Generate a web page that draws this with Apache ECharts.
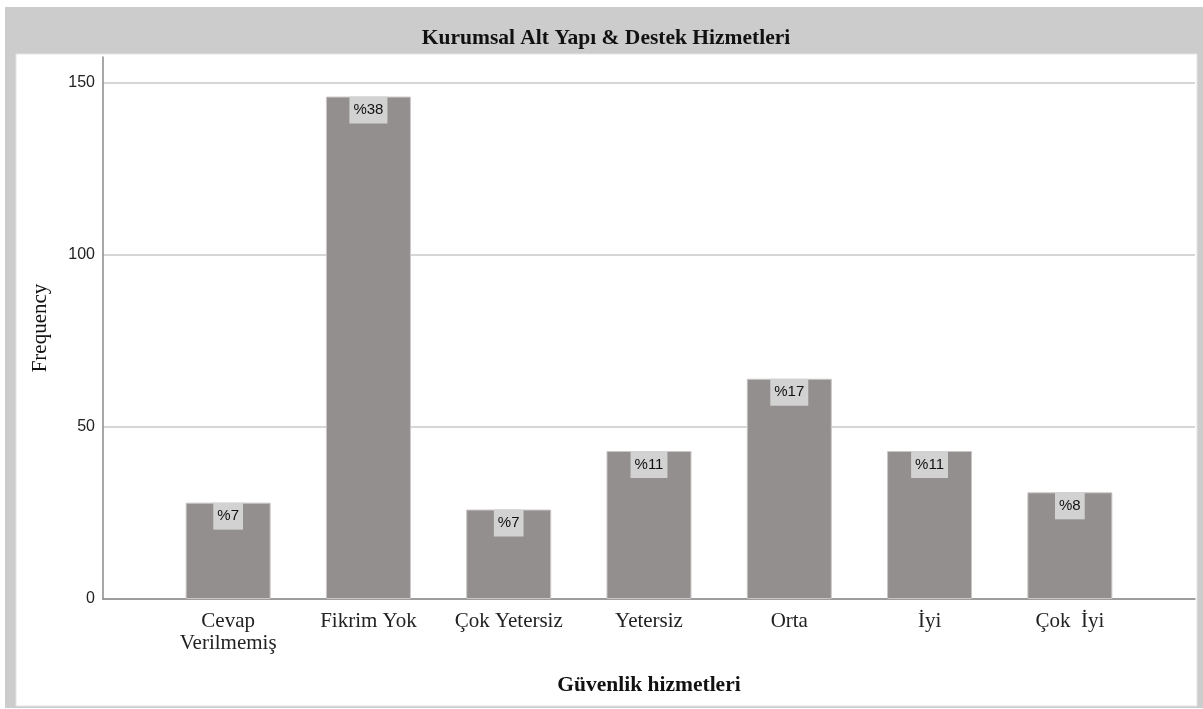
<!DOCTYPE html>
<html>
<head>
<meta charset="utf-8">
<script src="https://cdn.jsdelivr.net/npm/echarts@6/dist/echarts.min.js"></script>
<style>
  html, body { margin: 0; padding: 0; background: #ffffff; }
  #chart { width: 1203px; height: 709px; }
</style>
</head>
<body>
<div id="chart"></div>
<script>
// Chart text
const chartTitle = 'Kurumsal Alt Yapı & Destek Hizmetleri';
const xAxisTitle = 'Güvenlik hizmetleri';
const yAxisTitle = 'Frequency';

// Response categories and their counts
const categories = ['Cevap\nVerilmemiş', 'Fikrim Yok', 'Çok Yetersiz', 'Yetersiz', 'Orta', 'İyi', 'Çok  İyi'];
const frequencies = [28, 146, 26, 43, 64, 43, 31];

// Frequency axis: ticks 0, 50, 100, 150
const yMin = 0;
const yMax = 157.5;
const yStep = 50;

const total = frequencies.reduce((a, b) => a + b, 0);

const serif = 'Liberation Serif';
const sans = 'Liberation Sans';

const chart = echarts.init(document.getElementById('chart'), null, { renderer: 'canvas' });

chart.setOption({
  animation: false,
  backgroundColor: '#ffffff',
  graphic: [
    // grey frame with header band
    { type: 'rect', z: -20, shape: { x: 5, y: 7, width: 1198, height: 701 },
      style: { fill: '#cccccc' } },
    // white chart panel
    { type: 'rect', z: -19, shape: { x: 16, y: 54, width: 1181, height: 652 },
      style: { fill: '#ffffff', stroke: '#e4e4e4', lineWidth: 1 } },
    // header title
    { type: 'text', z: 10, x: 606, y: 38,
      style: { text: chartTitle, fill: '#111111', font: 'bold 21.5px "' + serif + '"',
               textAlign: 'center', textVerticalAlign: 'middle' } }
  ],
  grid: [
    // full-width frame grid: axis lines, gridlines, names
    { left: 103, right: 8, top: 57, bottom: 110 },
    // inset grid holding the bars
    { left: 158, right: 63, top: 57, bottom: 110 }
  ],
  xAxis: [
    {
      gridIndex: 0, type: 'value', min: 0, max: 1,
      axisLine: { show: true, onZero: false, lineStyle: { color: '#8a8a8a', width: 1.5 } },
      axisTick: { show: false }, axisLabel: { show: false }, splitLine: { show: false },
      name: xAxisTitle, nameLocation: 'middle', nameGap: 75,
      nameTextStyle: { fontFamily: serif, fontWeight: 'bold', fontSize: 21.5, color: '#111111' }
    },
    {
      gridIndex: 1, type: 'category', data: categories,
      axisLine: { show: false }, axisTick: { show: false },
      axisLabel: { fontFamily: serif, fontSize: 21, color: '#222222', margin: 11, lineHeight: 22, interval: 0 }
    }
  ],
  yAxis: [
    {
      gridIndex: 0, type: 'value', min: yMin, max: yMax, interval: yStep,
      axisLine: { show: true, lineStyle: { color: '#8a8a8a', width: 1.5 } },
      axisTick: { show: false },
      axisLabel: { fontFamily: sans, fontSize: 16, color: '#222222', margin: 8, showMaxLabel: false },
      splitLine: { show: true, showMaxLine: false, lineStyle: { color: '#c8c8c8', width: 1.5 } },
      name: yAxisTitle, nameLocation: 'middle', nameGap: 52,
      nameTextStyle: { fontFamily: serif, fontSize: 21, color: '#111111' }
    },
    { gridIndex: 1, type: 'value', min: yMin, max: yMax, interval: yStep, show: false }
  ],
  series: [
    {
      type: 'bar', xAxisIndex: 1, yAxisIndex: 1,
      data: frequencies,
      barWidth: 85,
      itemStyle: { color: '#938f8e', borderColor: '#c9c6c5', borderWidth: 1 },
      label: {
        show: true, position: 'insideTop', distance: 0,
        formatter: p => '%' + Math.round(p.value / total * 100),
        fontFamily: sans, fontSize: 15, color: '#111111',
        backgroundColor: '#d2d2d2', padding: [6, 4, 6, 4]
      }
    }
  ]
});
</script>
</body>
</html>
